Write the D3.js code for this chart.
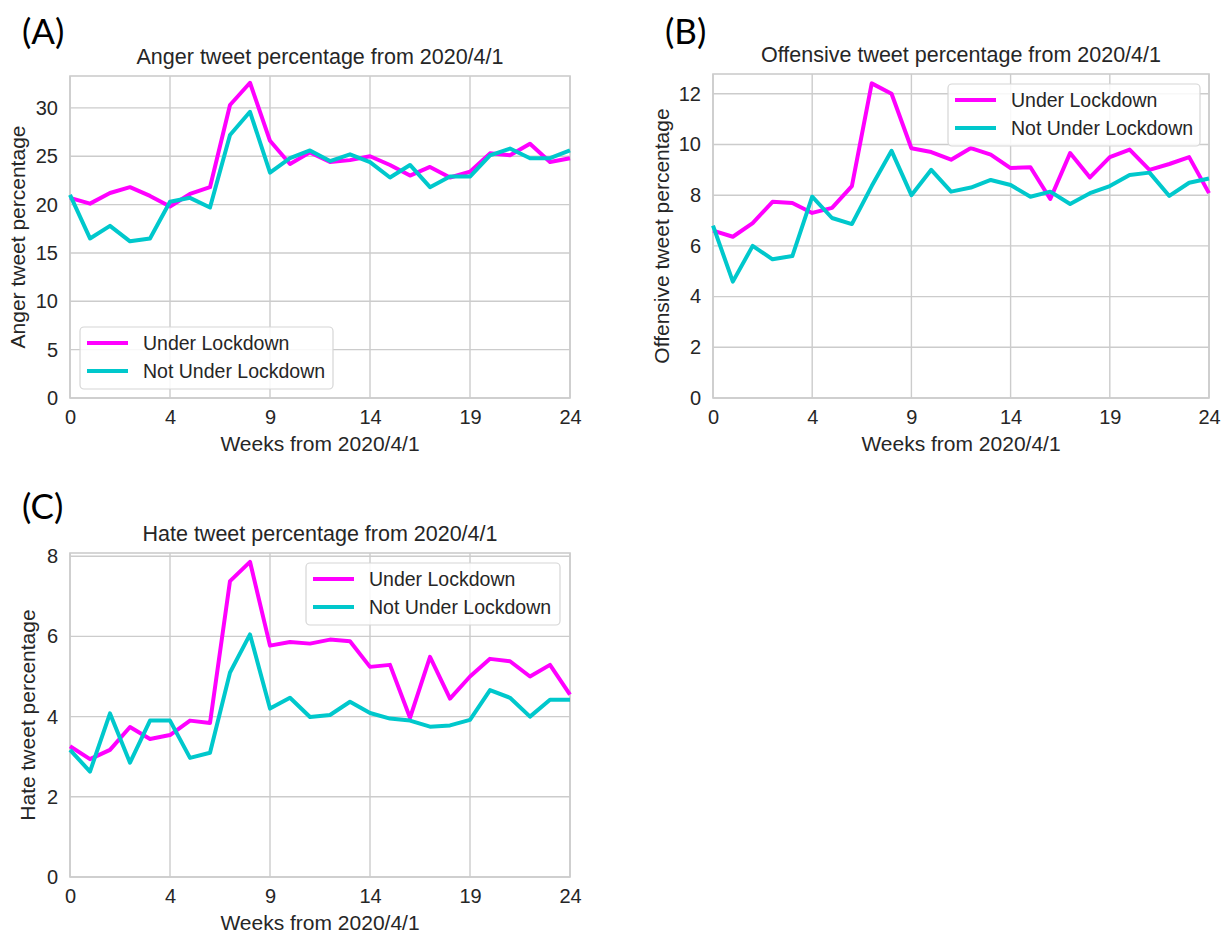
<!DOCTYPE html>
<html>
<head>
<meta charset="utf-8">
<script src="https://cdn.jsdelivr.net/npm/d3@7"></script>
<style>
  html, body { margin: 0; padding: 0; background: #ffffff; }
  svg { display: block; }
</style>
</head>
<body>
<svg id="chart" width="1223" height="934"></svg>
<script>
// ---- data ----
const weekTickIndex = [0, 5, 10, 15, 20, 25];
const weekTickLabels = ["0", "4", "9", "14", "19", "24"];
const seriesNames = ["Under Lockdown", "Not Under Lockdown"];

const angerUnder = [20.7, 20.1, 21.2, 21.8, 20.9, 19.8, 21.1, 21.8, 30.3, 32.6, 26.6, 24.2, 25.4, 24.4, 24.6, 25.0, 24.1, 23.0, 23.9, 22.8, 23.4, 25.3, 25.1, 26.3, 24.4, 24.8];
const angerNot   = [21.0, 16.5, 17.8, 16.2, 16.5, 20.3, 20.7, 19.7, 27.2, 29.6, 23.3, 24.8, 25.6, 24.5, 25.2, 24.4, 22.8, 24.1, 21.8, 22.9, 22.9, 25.1, 25.8, 24.8, 24.8, 25.6];
const angerTicks = [0, 5, 10, 15, 20, 25, 30];

const offensiveUnder = [6.6, 6.36, 6.9, 7.74, 7.69, 7.3, 7.5, 8.36, 12.41, 12.0, 9.85, 9.7, 9.4, 9.86, 9.6, 9.07, 9.1, 7.85, 9.66, 8.7, 9.5, 9.8, 9.0, 9.23, 9.5, 8.08];
const offensiveNot   = [6.8, 4.59, 6.0, 5.47, 5.6, 7.94, 7.1, 6.86, 8.36, 9.75, 8.0, 9.0, 8.14, 8.3, 8.6, 8.4, 7.94, 8.14, 7.65, 8.08, 8.36, 8.8, 8.89, 7.97, 8.49, 8.66];
const offensiveTicks = [0, 2, 4, 6, 8, 10, 12];

const hateUnder = [3.26, 2.94, 3.17, 3.74, 3.44, 3.54, 3.9, 3.84, 7.38, 7.86, 5.77, 5.86, 5.82, 5.92, 5.88, 5.24, 5.29, 3.97, 5.49, 4.45, 5.0, 5.44, 5.38, 5.0, 5.29, 4.55];
const hateNot   = [3.17, 2.63, 4.08, 2.85, 3.9, 3.9, 2.97, 3.1, 5.1, 6.05, 4.2, 4.47, 3.99, 4.04, 4.37, 4.09, 3.95, 3.9, 3.75, 3.78, 3.92, 4.66, 4.47, 4.0, 4.42, 4.42];
const hateTicks = [0, 2, 4, 6, 8];

// ---- style ----
const COLORS = ["#ff00ff", "#00c8cc"];
const GRID = "#cccccc";
const TEXT = "#262626";
const FONT = "'Liberation Sans', Arial, sans-serif";

const svg = d3.select("#chart");

function panel(cfg) {
  const g = svg.append("g");
  const x = d3.scaleLinear().domain([0, 25]).range([cfg.left, cfg.right]);
  const y = d3.scaleLinear().domain([0, cfg.yMax]).range([cfg.bottom, cfg.top]);

  // grid
  g.append("g").selectAll("line").data(weekTickIndex).join("line")
    .attr("x1", d => x(d)).attr("x2", d => x(d))
    .attr("y1", cfg.top).attr("y2", cfg.bottom)
    .attr("stroke", GRID).attr("stroke-width", 1.4);
  g.append("g").selectAll("line").data(cfg.yTicks).join("line")
    .attr("x1", cfg.left).attr("x2", cfg.right)
    .attr("y1", d => y(d)).attr("y2", d => y(d))
    .attr("stroke", GRID).attr("stroke-width", 1.4);
  // frame
  g.append("rect")
    .attr("x", cfg.left).attr("y", cfg.top)
    .attr("width", cfg.right - cfg.left).attr("height", cfg.bottom - cfg.top)
    .attr("fill", "none").attr("stroke", GRID).attr("stroke-width", 1.6);

  // axes (labels only)
  const xAxis = d3.axisBottom(x).tickValues(weekTickIndex)
    .tickFormat((d, i) => weekTickLabels[i]).tickSize(0).tickPadding(12);
  const xa = g.append("g").attr("transform", `translate(0,${cfg.bottom})`).call(xAxis);
  const yAxis = d3.axisLeft(y).tickValues(cfg.yTicks).tickSize(0).tickPadding(12);
  const ya = g.append("g").attr("transform", `translate(${cfg.left},0)`).call(yAxis);
  [xa, ya].forEach(a => {
    a.select(".domain").remove();
    a.selectAll("text").attr("fill", TEXT).style("font-family", FONT).style("font-size", "20px");
  });

  // lines
  const line = d3.line().x((d, i) => x(i)).y(d => y(d));
  cfg.series.forEach((s, k) => {
    g.append("path").datum(s)
      .attr("d", line)
      .attr("fill", "none")
      .attr("stroke", COLORS[k])
      .attr("stroke-width", 4)
      .attr("stroke-linejoin", "round");
  });

  // title
  g.append("text")
    .attr("x", (cfg.left + cfg.right) / 2).attr("y", cfg.top - 12)
    .attr("text-anchor", "middle").attr("fill", TEXT)
    .style("font-family", FONT).style("font-size", "21.5px")
    .text(cfg.title);
  // x label
  g.append("text")
    .attr("x", (cfg.left + cfg.right) / 2).attr("y", cfg.bottom + 53)
    .attr("text-anchor", "middle").attr("fill", TEXT)
    .style("font-family", FONT).style("font-size", "21px")
    .text("Weeks from 2020/4/1");
  // y label
  g.append("text")
    .attr("transform", `translate(${cfg.yLabelX},${(cfg.top + cfg.bottom) / 2}) rotate(-90)`)
    .attr("text-anchor", "middle").attr("fill", TEXT)
    .style("font-family", FONT).style("font-size", "21px")
    .text(cfg.yLabel);
  // panel letter
  g.append("text")
    .attr("x", cfg.letterX).attr("y", cfg.letterY)
    .attr("fill", "#000").style("font-family", "Lato, 'Open Sans', sans-serif")
    .style("font-size", "35px")
    .text(cfg.letter);

  // legend
  const L = cfg.legend;
  const lg = g.append("g");
  lg.append("rect")
    .attr("x", L.x).attr("y", L.y).attr("width", L.w).attr("height", L.h)
    .attr("rx", 4).attr("fill", "#ffffff").attr("fill-opacity", 0.85)
    .attr("stroke", "#d6d6d6").attr("stroke-width", 1.2);
  seriesNames.forEach((name, k) => {
    const yy = L.y + 16 + k * 28;
    lg.append("line")
      .attr("x1", L.x + 7).attr("x2", L.x + 48)
      .attr("y1", yy).attr("y2", yy)
      .attr("stroke", COLORS[k]).attr("stroke-width", 4);
    lg.append("text")
      .attr("x", L.x + 63).attr("y", yy + 7)
      .attr("fill", TEXT).style("font-family", FONT).style("font-size", "19.5px")
      .text(name);
  });
}

panel({
  left: 70, right: 570, top: 76, bottom: 398, yMax: 33.3, yTicks: angerTicks,
  series: [angerUnder, angerNot],
  title: "Anger tweet percentage from 2020/4/1",
  yLabel: "Anger tweet percentage", yLabelX: 25,
  letter: "(A)", letterX: 22, letterY: 44,
  legend: { x: 80, y: 327, w: 253, h: 62 }
});

panel({
  left: 713, right: 1209, top: 74, bottom: 398, yMax: 12.78, yTicks: offensiveTicks,
  series: [offensiveUnder, offensiveNot],
  title: "Offensive tweet percentage from 2020/4/1",
  yLabel: "Offensive tweet percentage", yLabelX: 669,
  letter: "(B)", letterX: 665, letterY: 44,
  legend: { x: 948, y: 84, w: 252, h: 62 }
});

panel({
  left: 70, right: 570, top: 553, bottom: 877, yMax: 8.08, yTicks: hateTicks,
  series: [hateUnder, hateNot],
  title: "Hate tweet percentage from 2020/4/1",
  yLabel: "Hate tweet percentage", yLabelX: 35,
  letter: "(C)", letterX: 22, letterY: 519,
  legend: { x: 306, y: 563, w: 254, h: 62 }
});
</script>
</body>
</html>
